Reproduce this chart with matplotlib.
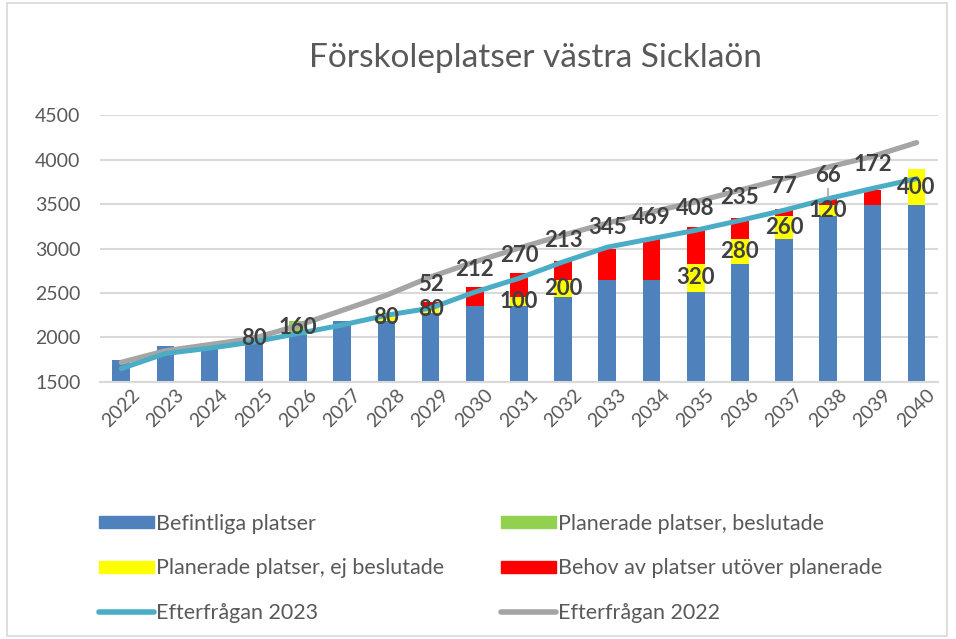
import matplotlib
matplotlib.use("Agg")
import matplotlib.pyplot as plt
import numpy as np
from matplotlib.patches import Rectangle, Patch
from matplotlib.lines import Line2D

plt.rcParams['font.family'] = ['Lato', 'DejaVu Sans']

# data
years = [str(y) for y in range(2022, 2041)]
befintliga = [1750, 1900, 1940, 1950, 2030, 2190, 2190, 2270, 2350, 2350,
              2450, 2650, 2650, 2510, 2830, 3110, 3370, 3490, 3490]
beslutade = [0, 0, 0, 80, 160, 0, 0, 0, 0, 0, 0, 0, 0, 0, 0, 0, 0, 0, 0]
ej_beslutade = [0, 0, 0, 0, 0, 0, 80, 80, 0, 100, 200, 0, 0, 320, 280, 260, 120, 0, 400]
behov = [0, 0, 0, 0, 0, 0, 0, 52, 212, 270, 213, 345, 469, 408, 235, 77, 66, 172, 0]
eft_2023 = [1650, 1820, 1880, 1950, 2045, 2140, 2250, 2330, 2510, 2665,
            2850, 3015, 3110, 3205, 3315, 3430, 3560, 3675, 3785]
eft_2022 = [1720, 1850, 1920, 1990, 2135, 2305, 2475, 2680, 2850, 3005,
            3150, 3285, 3410, 3525, 3655, 3785, 3915, 4035, 4190]

c_blue = '#4F81BD'
c_green = '#92D050'
c_yellow = '#FFFF00'
c_red = '#FF0000'
c_teal = '#4BACC6'
c_gray = '#A5A5A5'
txt = '#595959'
lbl = '#404040'

fig = plt.figure(figsize=(9.56, 6.39), dpi=100)
ax = fig.add_axes([0.1046, 0.4022, 0.8764, 0.4178])

x = np.arange(len(years))
w = 0.4
b0 = np.array(befintliga, dtype=float)
b1 = b0 + np.array(beslutade)
b2 = b1 + np.array(ej_beslutade)
b3 = b2 + np.array(behov)

ax.bar(x, befintliga, w, color=c_blue, zorder=2)
ax.bar(x, beslutade, w, bottom=b0, color=c_green, zorder=2)
ax.bar(x, ej_beslutade, w, bottom=b1, color=c_yellow, zorder=2)
ax.bar(x, behov, w, bottom=b2, color=c_red, zorder=2)

ax.plot(x, eft_2022, color=c_gray, lw=3.8, solid_capstyle='round', zorder=3)
ax.plot(x, eft_2023, color=c_teal, lw=3.6, solid_capstyle='round', zorder=4)

# data labels
lab_kw = dict(ha='center', va='center', fontsize=16, fontweight='bold', color=lbl, zorder=6)
for i in range(len(years)):
    if beslutade[i]:
        ax.text(x[i], b0[i] + beslutade[i] / 2, str(beslutade[i]), **lab_kw)
    if ej_beslutade[i]:
        ax.text(x[i], b1[i] + ej_beslutade[i] / 2, str(ej_beslutade[i]), **lab_kw)
    if behov[i]:
        ly = (eft_2022[i] + eft_2023[i]) / 2 + 85
        ax.text(x[i], ly, str(behov[i]), **lab_kw)
        if years[i] == '2038':
            # leader line from the moved label down to its segment
            ax.plot([x[i], x[i]], [ly - 150, b3[i] + 25], color=c_gray, lw=1.2, zorder=5)

ax.set_xlim(-0.48, 18.48)
ax.set_ylim(1500, 4500)
ax.set_yticks(range(1500, 4501, 500))
ax.set_xticks(x)
ax.set_xticklabels(years, rotation=45, ha='center')
ax.tick_params(axis='both', length=0, labelsize=14, labelcolor=txt)
ax.tick_params(axis='y', pad=14)
ax.tick_params(axis='x', pad=3)
ax.grid(axis='y', color='#D9D9D9', lw=1.5, zorder=0)
ax.set_axisbelow(True)
for s in ['top', 'right', 'left']:
    ax.spines[s].set_visible(False)
ax.spines['bottom'].set_color('#D9D9D9')
ax.spines['bottom'].set_linewidth(1.5)

fig.text(0.56, 0.91, 'Förskoleplatser västra Sicklaön', ha='center', va='center',
         fontsize=24, color=txt)

# legend, two columns placed separately
leg_kw = dict(frameon=False, fontsize=15.5, handlelength=2.55, handleheight=0.5,
              handletextpad=0.12, labelspacing=1.15, borderaxespad=0, labelcolor=txt)
h1 = [Patch(color=c_blue), Patch(color=c_yellow),
      Line2D([], [], color=c_teal, lw=4, solid_capstyle='round')]
l1 = ['Befintliga platser', 'Planerade platser, ej beslutade', 'Efterfrågan 2023']
h2 = [Patch(color=c_green), Patch(color=c_red),
      Line2D([], [], color=c_gray, lw=4, solid_capstyle='round')]
l2 = ['Planerade platser, beslutade', 'Behov av platser utöver planerade', 'Efterfrågan 2022']
fig.legend(h1, l1, loc='upper left', bbox_to_anchor=(90 / 956, 1 - 505 / 639), **leg_kw)
fig.legend(h2, l2, loc='upper left', bbox_to_anchor=(492 / 956, 1 - 505 / 639), **leg_kw)

fig.patches.append(Rectangle((7 / 956, 3 / 639), 940 / 956, 633 / 639, transform=fig.transFigure,
                             fill=False, edgecolor='#D9D9D9', lw=1.2))

fig.savefig('out.png', dpi=100)
